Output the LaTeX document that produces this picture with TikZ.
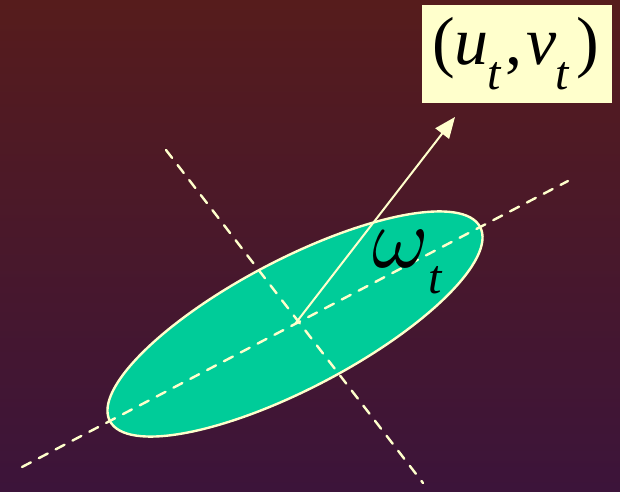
\documentclass[tikz,border=0pt]{standalone}
\usepackage{fontspec}
\usepackage{graphicx}
\setmainfont{Liberation Serif}
\usetikzlibrary{arrows.meta,shapes.geometric}
\definecolor{bgtop}{RGB}{86,28,28}
\definecolor{bgbot}{RGB}{60,20,58}
\definecolor{cream}{RGB}{255,255,204}
\definecolor{teal}{RGB}{0,204,153}
\newcommand{\mysub}[2]{\raisebox{-#1pt}{\fontsize{48}{48}\selectfont\itshape #2}}
\tikzset{
  axisline/.style={draw=cream, line width=2.4pt, dash pattern=on 10pt off 9pt, line cap=round},
  blob/.style={ellipse, draw=cream, line width=2.4pt, fill=teal, inner sep=0pt},
  labelbox/.style={fill=cream, draw=none, inner sep=0pt},
  vec/.style={draw=cream, line width=2pt, -{Triangle[length=21pt,width=17pt]}},
  plain/.style={inner sep=0pt, text=black}
}
\begin{document}
\begin{tikzpicture}[x=1pt,y=1pt]
\shade[top color=bgtop, bottom color=bgbot] (0,0) rectangle (620,491);
\useasboundingbox (0,0) rectangle (620,491);
\coordinate (c) at (295,167);
\coordinate (maja) at (22,24);
\coordinate (majb) at (568,310);
\coordinate (mina) at (166,341);
\coordinate (minb) at (423,8);
\coordinate (tip) at (455,374);
\node[blob, rotate=27.65, minimum width=418pt, minimum height=129pt] (ell) at (c) {};
\draw[axisline] (maja) -- (majb);
\draw[axisline] (mina) -- (minb);
\draw[vec] (c) -- (tip);
\node[labelbox, minimum width=190pt, minimum height=98pt] (box) at (517,437) {};
\node[plain, anchor=base west] (uv) at (432,426)
  {\fontsize{68}{70}\selectfont (\textit{u}\kern-1pt\mysub{25}{t}\kern4pt,\kern4pt\textit{v}\kern-1pt\mysub{25}{t}\kern8pt)};
\node[plain, anchor=base west] (om) at (372,224)
  {\scalebox{8.6}{$\omega$}\kern0pt\raisebox{-26pt}{\fontsize{48}{48}\selectfont\itshape t}};
\end{tikzpicture}
\end{document}
